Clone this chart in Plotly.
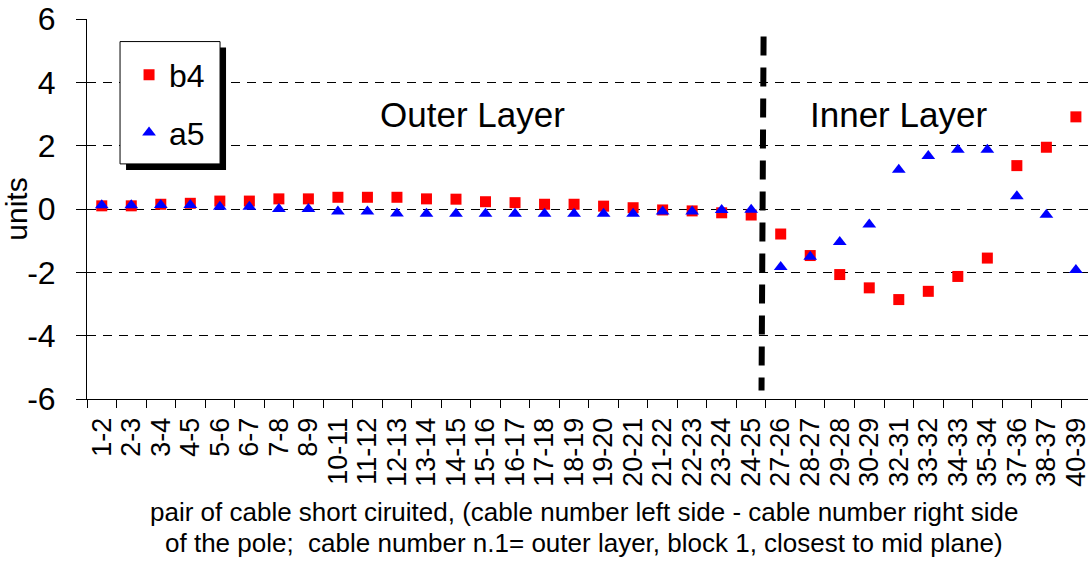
import plotly.graph_objects as go

categories = ["1-2", "2-3", "3-4", "4-5", "5-6", "6-7", "7-8", "8-9", "10-11", "11-12",
              "12-13", "13-14", "14-15", "15-16", "16-17", "17-18", "18-19", "19-20",
              "20-21", "21-22", "22-23", "23-24", "24-25", "27-26", "28-27", "29-28",
              "30-29", "32-31", "33-32", "34-33", "35-34", "37-36", "38-37", "40-39"]

b4 = [0.10, 0.10, 0.15, 0.18, 0.25, 0.25, 0.32, 0.32, 0.37, 0.37,
      0.37, 0.32, 0.31, 0.23, 0.20, 0.15, 0.15, 0.09,
      0.04, -0.03, -0.06, -0.12, -0.19, -0.79, -1.47, -2.07,
      -2.49, -2.86, -2.60, -2.13, -1.55, 1.37, 1.95, 2.91]

a5 = [0.12, 0.12, 0.13, 0.13, 0.07, 0.07, 0.00, 0.00, -0.08, -0.08,
      -0.14, -0.15, -0.15, -0.15, -0.15, -0.15, -0.15, -0.15,
      -0.15, -0.08, -0.08, -0.03, -0.02, -1.83, -1.51, -1.04,
      -0.49, 1.24, 1.67, 1.87, 1.87, 0.40, -0.18, -1.93]

y_ticks = [-6, -4, -2, 0, 2, 4, 6]
y_tick_text = ["-6", "-4", "-2", "0", "2", "4", "6"]

FONT = "Arial, 'Liberation Sans', sans-serif"

fig = go.Figure()
fig.add_trace(go.Scatter(x=categories, y=b4, mode="markers", name="b4", legendgroup="b4",
                         marker=dict(symbol="square", size=11, color="#FF0000")))
fig.add_trace(go.Scatter(x=categories, y=a5, mode="markers", name="a5", legendgroup="a5",
                         marker=dict(symbol="triangle-up", size=12, color="#0000FF")))

# legend frame with shadow (plot area is 1001 px wide)
fig.add_shape(type="rect", xref="paper", yref="paper", x0=0.0390, x1=0.1389, y0=0.6029, y1=0.9248,
              fillcolor="black", line=dict(width=0), layer="above")
fig.add_shape(type="rect", xref="paper", yref="paper", x0=0.0330, x1=0.1329, y0=0.6187, y1=0.9406,
              fillcolor="white", line=dict(color="black", width=1), layer="above")

# separator between outer and inner layer
fig.add_shape(type="line", xref="x", yref="y", x0=22.42, y0=5.45, x1=22.35, y1=-5.73,
              line=dict(color="black", width=6, dash="19px,12px"))

fig.add_annotation(text="Outer Layer", xref="paper", yref="y", x=0.3856, y=3.0, xanchor="center",
                   showarrow=False, font=dict(size=35, color="black", family=FONT))
fig.add_annotation(text="Inner Layer", xref="paper", yref="y", x=0.8102, y=3.0, xanchor="center",
                   showarrow=False, font=dict(size=35, color="black", family=FONT))

fig.add_annotation(text="pair of cable short ciruited, (cable number left side - cable number right side",
                   xref="paper", yref="paper", x=0.497, y=-0.298, yanchor="middle", xanchor="center",
                   showarrow=False, font=dict(size=26, color="black", family=FONT))
fig.add_annotation(text="of the pole;\u00a0 cable number n.1= outer layer, block 1, closest to mid plane)",
                   xref="paper", yref="paper", x=0.497, y=-0.380, yanchor="middle", xanchor="center",
                   showarrow=False, font=dict(size=26, color="black", family=FONT))

fig.update_layout(
    width=1091, height=565,
    margin=dict(l=87, r=3, t=19, b=166),
    paper_bgcolor="white", plot_bgcolor="white",
    font=dict(family=FONT, color="black"),
    showlegend=True,
    legend=dict(x=0.042, y=0.925, xanchor="left", yanchor="top",
                bgcolor="rgba(0,0,0,0)", borderwidth=0,
                font=dict(size=32, family=FONT, color="black"),
                traceorder="grouped", tracegroupgap=13),
    xaxis=dict(type="category", range=[-0.5, 33.41], tickangle=-90, automargin=False,
               tickmode="array", tickvals=categories, ticktext=categories,
               tickfont=dict(size=27, family=FONT, color="black"),
               showline=True, linecolor="black", linewidth=1,
               ticks="outside", ticklen=8, tickcolor="black", tickson="boundaries",
               showgrid=False, ticklabelstandoff=7),
    yaxis=dict(range=[-6, 6], tickmode="array", tickvals=y_ticks, ticktext=y_tick_text,
               automargin=False,
               tickfont=dict(size=32, family=FONT, color="black"),
               showline=True, linecolor="black", linewidth=1,
               ticks="outside", ticklen=10, tickcolor="black",
               showgrid=True, gridcolor="black", gridwidth=1, griddash="9px,7px",
               zeroline=False, ticklabelstandoff=14,
               title=dict(text="units", font=dict(size=30, family=FONT, color="black"), standoff=0)),
)

fig.write_html("out.html")
